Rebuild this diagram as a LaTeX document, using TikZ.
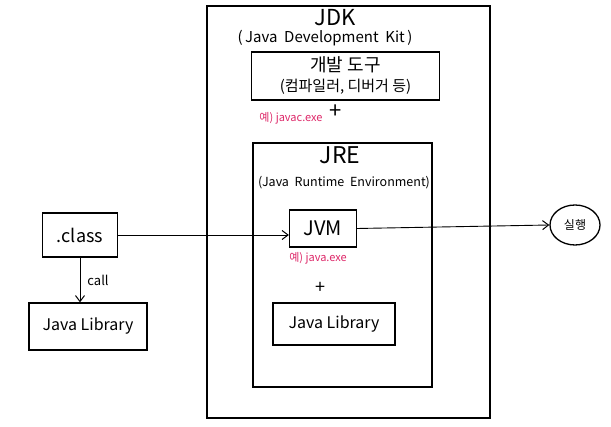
\documentclass[tikz,border=0pt]{standalone}
\usepackage{fontspec}
\setmainfont{Noto Sans CJK KR}
\usetikzlibrary{shapes.geometric,arrows.meta}
\definecolor{pinkish}{RGB}{222,40,105}
\newcommand{\fs}[1]{\fontsize{#1}{#1}\selectfont}
\begin{document}
\begin{tikzpicture}[x=1pt,y=-1pt,
  box/.style={draw,line width=1.3pt,rectangle,inner sep=0pt},
  conn/.style={line width=0.9pt,-{Straight Barb[length=6pt,width=9pt,line width=1pt]}},
  lbl/.style={inner sep=0pt},
  pinktext/.style={inner sep=0pt,text=pinkish,font=\fs{11}}]
\useasboundingbox (0,0) rectangle (611,427);
\fill[white] (0,0) rectangle (611,427);
% boxes
\node[box,minimum width=283pt,minimum height=412pt] (jdk) at (348.5,212) {};
\node[box,minimum width=188pt,minimum height=48pt,align=center,font=\fs{15}] (dev) at (345.5,76)
  {{\fs{18}개발 도구}\\[5pt](컴파일러, 디버거 등)};
\node[box,minimum width=179pt,minimum height=244pt] (jre) at (342.5,265) {};
\node[box,minimum width=67pt,minimum height=37pt,font=\fs{20}] (jvm) at (323,228.5) {JVM};
\node[box,minimum width=122pt,minimum height=42pt,font=\fs{16}] (jlib) at (334,324) {Java Library};
\node[box,minimum width=75pt,minimum height=44pt,font=\fs{18}] (cls) at (80,235) {.class};
\node[box,minimum width=118pt,minimum height=47pt,font=\fs{16}] (lib) at (88,326.5) {Java Library};
\node[draw,line width=1.3pt,ellipse,minimum width=50pt,minimum height=40pt,inner sep=0pt,font=\fs{12}] (run) at (575,225) {실행};
% titles
\node[lbl,font=\fs{22}] (jdkt) at (335,18) {JDK};
\node[lbl,font=\fs{15}] (jdks) at (325,38) {(\,Java\ \ Development\ \ Kit\,)};
\node[lbl,font=\fs{23}] (jret) at (340,155) {JRE};
\node[lbl,font=\fs{12.5}] (jres) at (344,183) {(Java\ \ Runtime\ \ Environment)};
\node[lbl,font=\fs{22}] (plus1) at (336,112) {+};
\node[lbl,font=\fs{18}] (plus2) at (320,288) {+};
\node[pinktext] (ex1) at (291,118) {예) javac.exe};
\node[pinktext] (ex2) at (318,258) {예) java.exe};
% connectors
\draw[conn] (cls.east) -- (cls.east -| jvm.west);
\draw[conn] (jvm.east) -- (run.west);
\draw[conn] (cls.south) -- (cls.south |- lib.north) node[midway,right=7pt,lbl,font=\fs{13}] (call) {call};
\end{tikzpicture}
\end{document}
